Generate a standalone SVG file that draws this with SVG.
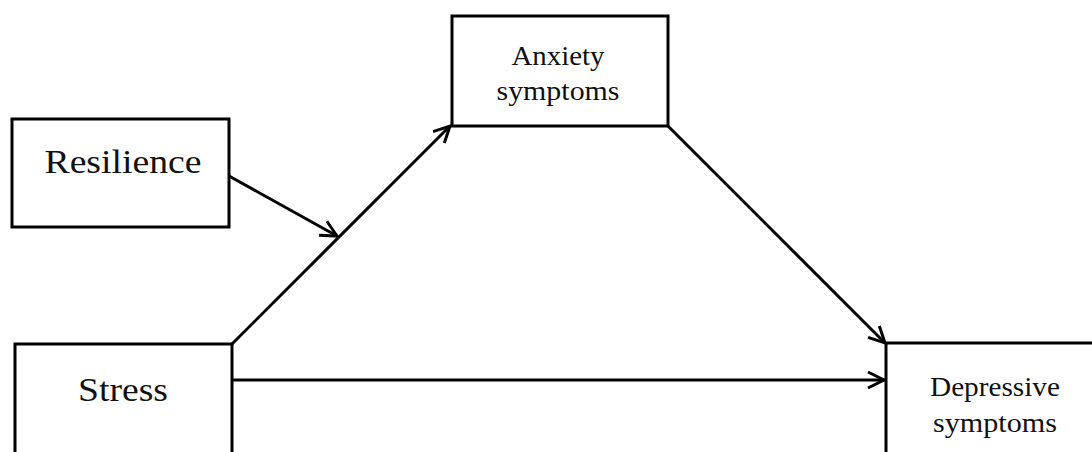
<svg xmlns="http://www.w3.org/2000/svg" width="1092" height="452" viewBox="0 0 1092 452">
<style>
.box{fill:#fff;stroke:#000;stroke-width:3}
.edge{fill:none;stroke:#000;stroke-width:3}
.big{font-family:"Liberation Serif",serif;font-size:34px;fill:#111}
.small{font-family:"Liberation Serif",serif;font-size:27px;fill:#111}
</style>
<defs>
<marker id="arr" markerUnits="userSpaceOnUse" markerWidth="24" markerHeight="24" viewBox="-20 -12 24 24" refX="0" refY="0" orient="auto">
<path d="M-16,-8 L0,0 L-16,8" fill="none" stroke="#000" stroke-width="3"/>
</marker>
</defs>
<g id="connectors">
<line class="edge" x1="232" y1="344" x2="450" y2="126" marker-end="url(#arr)"/>
<line class="edge" x1="229" y1="176" x2="337" y2="236" marker-end="url(#arr)"/>
<line class="edge" x1="668" y1="126" x2="885" y2="343" marker-end="url(#arr)"/>
<line class="edge" x1="232" y1="380" x2="884" y2="380" marker-end="url(#arr)"/>
</g>
<g id="resilience">
<rect class="box" x="12" y="119" width="217" height="108"/>
<text class="big" x="123" y="173" text-anchor="middle" textLength="157" lengthAdjust="spacingAndGlyphs">Resilience</text>
</g>
<g id="anxiety">
<rect class="box" x="452" y="16" width="216" height="110"/>
<text class="small" x="558" y="65" text-anchor="middle" textLength="93" lengthAdjust="spacingAndGlyphs">Anxiety</text>
<text class="small" x="558" y="100" text-anchor="middle" textLength="123" lengthAdjust="spacingAndGlyphs">symptoms</text>
</g>
<g id="stress">
<rect class="box" x="15" y="344" width="217" height="130"/>
<text class="big" x="123" y="401" text-anchor="middle" textLength="90" lengthAdjust="spacingAndGlyphs">Stress</text>
</g>
<g id="depressive">
<rect class="box" x="886" y="343" width="230" height="130"/>
<text class="small" x="995" y="396" text-anchor="middle" textLength="130" lengthAdjust="spacingAndGlyphs">Depressive</text>
<text class="small" x="995" y="432" text-anchor="middle" textLength="124" lengthAdjust="spacingAndGlyphs">symptoms</text>
</g>
</svg>
